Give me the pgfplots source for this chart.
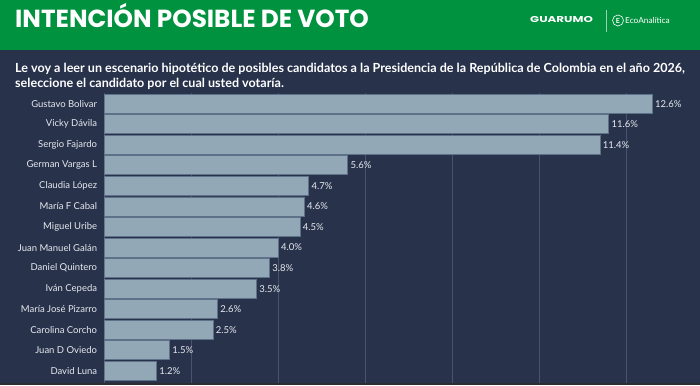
\documentclass[border=0pt]{standalone}
\usepackage{pgfplots}
\pgfplotsset{compat=1.18}
\usepackage{fontspec}
\setmainfont{Lato}
\newfontfamily\titlefont{Poppins}
\definecolor{hdr}{HTML}{00923F}
\definecolor{bg}{HTML}{28324B}
\definecolor{barc}{HTML}{93A8B7}
\definecolor{bare}{HTML}{5E7189}
\definecolor{gridc}{HTML}{48546D}
\definecolor{txt}{HTML}{E6EAEF}
\definecolor{band}{HTML}{2B2D31}
\pgfplotstableread{
idx val
0 12.6
1 11.6
2 11.4
3 5.6
4 4.7
5 4.6
6 4.5
7 4.0
8 3.8
9 3.5
10 2.6
11 2.5
12 1.5
13 1.2
}\votos
\begin{document}
\begin{tikzpicture}
\useasboundingbox (0pt,0pt) rectangle (700pt,385pt);
\fill[bg] (0pt,0pt) rectangle (700pt,385pt);
\fill[hdr] (0pt,335pt) rectangle (700pt,385pt);
\fill[band] (0pt,0pt) rectangle (700pt,2pt);
\node[anchor=base west, inner sep=0pt, text=white, font=\titlefont\bfseries\fontsize{24.7}{24.7}\selectfont] at (15pt,357pt) {INTENCIÓN POSIBLE DE VOTO};
\node[anchor=west, inner sep=0pt, text=white, font=\titlefont\bfseries\fontsize{8.5}{8.5}\selectfont] at (530pt,365pt) {\scalebox{1.4}[1]{GUARUMO}};
\draw[white!60!hdr, line width=0.6pt] (606pt,353pt) -- (606pt,375pt);
\draw[white, line width=0.6pt] (618pt,364.5pt) circle (5.5pt);
\node[inner sep=0pt, text=white, font=\bfseries\fontsize{7}{7}\selectfont] at (618pt,364.5pt) {E};
\node[anchor=west, inner sep=0pt, text=white, font=\fontsize{8.3}{8.3}\selectfont] at (625pt,364.5pt) {EcoAnalítica};
\node[anchor=base west, inner sep=0pt, text=white, font=\bfseries\fontsize{12.55}{12.55}\selectfont] at (15pt,312pt) {Le voy a leer un escenario hipotético de posibles candidatos a la Presidencia de la República de Colombia en el año 2026,};
\node[anchor=base west, inner sep=0pt, text=white, font=\bfseries\fontsize{12.55}{12.55}\selectfont] at (15pt,297.5pt) {seleccione el candidato por el cual usted votaría.};
\begin{axis}[
  at={(104.3pt,291.5pt)}, anchor=north west,
  scale only axis, width=595.7pt, height=289.6pt,
  xbar, bar width=19pt,
  xmin=0, xmax=13.7,
  ymin=-0.5, ymax=13.6, y dir=reverse,
  axis line style={draw=none},
  major tick length=0pt,
  xtick={0,2,4,6,8,10,12}, xticklabels={},
  xmajorgrids, grid style={gridc, line width=0.7pt},
  ytick={0,...,13},
  yticklabels={Gustavo Bolivar,Vicky Dávila,Sergio Fajardo,German Vargas L,Claudia López,María F Cabal,Miguel Uribe,Juan Manuel Galán,Daniel Quintero,Iván Cepeda,María José Pizarro,Carolina Corcho,Juan D Oviedo,David Luna},
  yticklabel style={text=txt, font=\fontsize{9.5}{9.5}\selectfont, inner sep=0pt, xshift=-7pt},
  /pgf/number format/.cd, assume math mode=true, fixed, fixed zerofill, precision=1,
  /pgfplots/.cd,
  nodes near coords={\pgfmathprintnumber{\pgfplotspointmeta}\%},
  every node near coord/.append style={text=txt, font=\fontsize{9.5}{9.5}\selectfont, inner sep=2.5pt},
]
\addplot[fill=barc, draw=bare, line width=0.8pt] table[x=val, y=idx] {\votos};
\end{axis}
\end{tikzpicture}
\end{document}
